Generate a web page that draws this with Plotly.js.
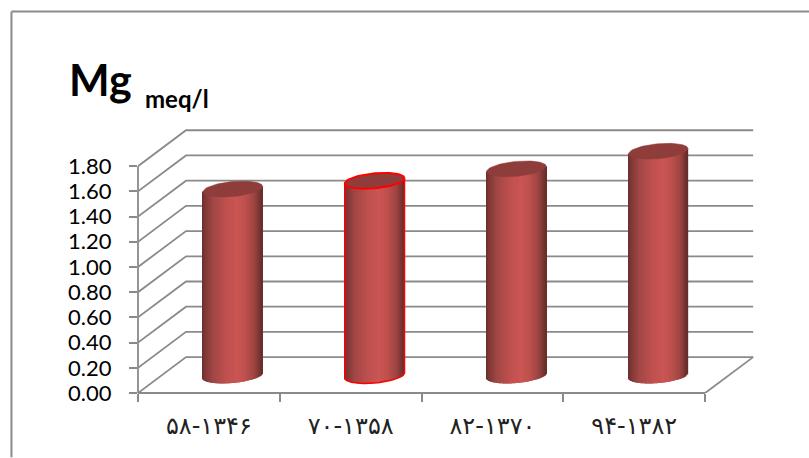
<!DOCTYPE html>
<html>
<head>
<meta charset="utf-8">
<script src="https://cdn.plot.ly/plotly-3.0.1.min.js"></script>
<style>
html,body{margin:0;padding:0;background:#fff;overflow:hidden}
</style>
</head>
<body>
<div id="chart" style="width:809px;height:458px"></div>
<script>
// Magnesium concentration by period
var categories = ['۵۸-۱۳۴۶', '۷۰-۱۳۵۸', '۸۲-۱۳۷۰', '۹۴-۱۳۸۲'];
var values = [1.48, 1.545, 1.64, 1.78];
var yTicks = [0, 0.2, 0.4, 0.6, 0.8, 1.0, 1.2, 1.4, 1.6, 1.8];
var yTickLabels = ['0.00', '0.20', '0.40', '0.60', '0.80', '1.00', '1.20', '1.40', '1.60', '1.80'];
var highlighted = [false, true, false, false];

// Oblique projection of the chart box, in axis units
var W = 809, H = 458;
var left = 138, bottom = 393.5;
var slotPx = 141.75, unitPx = 126.39;
var depthX = 48 / slotPx, depthY = 36 / unitPx;
var xMax = 4 + depthX + 0.02, yMax = 1.8 + depthY + 0.01;

// Cylinder shape
var radius = 29.8 / slotPx, capRise = 7.5 / unitPx, capTilt = 2.6 / unitPx;
var baseLevel = depthY / 2 - 0.5 / unitPx;
var sliceCount = 60;

// Horizontal shading across a cylinder: [position, r, g, b]
var shade = [
  [0.00, 106, 47, 45], [0.05, 126, 55, 53], [0.18, 160, 70, 68], [0.40, 190, 80, 78],
  [0.58, 203, 85, 83], [0.72, 190, 80, 77], [0.86, 160, 69, 66], [0.95, 124, 54, 52], [1.00, 100, 44, 42]
];
function shadeAt(t) {
  for (var i = 1; i < shade.length; i++) {
    if (t <= shade[i][0]) {
      var a = shade[i - 1], b = shade[i], f = (t - a[0]) / (b[0] - a[0]);
      return 'rgb(' + [1, 2, 3].map(function (k) { return Math.round(a[k] + (b[k] - a[k]) * f); }).join(',') + ')';
    }
  }
  return 'rgb(100,44,42)';
}

// Height of a cylinder rim at u in [-1, 1]; sign picks the front (-1) or back (+1) arc
function rim(center, u, sign) {
  return center + capTilt * u + sign * capRise * Math.sqrt(Math.max(0, 1 - u * u));
}

var traces = [];
values.forEach(function (v, idx) {
  var cx = idx + 0.5 + depthX / 2;
  var xs = [], bases = [], heights = [], colors = [], widths = [];
  for (var i = 0; i < sliceCount; i++) {
    var t = (i + 0.5) / sliceCount, u = 2 * t - 1;
    var lo = rim(baseLevel, u, -1), hi = rim(baseLevel + v, u, 0);
    xs.push(cx + u * radius);
    bases.push(lo);
    heights.push(hi - lo);
    colors.push(shadeAt(t));
    widths.push(2 * radius / sliceCount * 1.2);
  }
  traces.push({
    type: 'bar', x: xs, y: heights, base: bases, width: widths,
    marker: { color: colors, opacity: 1, line: { width: 0 } },
    hoverinfo: 'skip', showlegend: false, cliponaxis: false
  });
});

values.forEach(function (v, idx) {
  var cx = idx + 0.5 + depthX / 2, top = baseLevel + v;
  var capX = [], capY = [], a;
  for (a = 0; a <= 72; a++) {
    var th = a / 72 * 2 * Math.PI, c = Math.cos(th);
    capX.push(cx + radius * c);
    capY.push(top + capTilt * c + capRise * Math.sin(th));
  }
  traces.push({
    type: 'scatter', mode: 'lines', x: capX, y: capY, fill: 'toself',
    fillcolor: '#8e3d3b', line: { color: highlighted[idx] ? '#ff0000' : '#8e3d3b', width: highlighted[idx] ? 2 : 0.5 },
    hoverinfo: 'skip', showlegend: false, cliponaxis: false
  });
  if (highlighted[idx]) {
    var ox = [], oy = [];
    for (a = 0; a <= 36; a++) {
      var u2 = -1 + a / 18;
      ox.push(cx + u2 * radius);
      oy.push(rim(baseLevel, u2, -1));
    }
    ox.push(cx + radius); oy.push(rim(top, 1, 0));
    ox.unshift(cx - radius); oy.unshift(rim(top, -1, 0));
    traces.push({
      type: 'scatter', mode: 'lines', x: ox, y: oy,
      line: { color: '#ff0000', width: 1.5 },
      hoverinfo: 'skip', showlegend: false, cliponaxis: false
    });
  }
});

// Invisible trace so the tick-mark axis along the floor is drawn
traces.push({ type: 'scatter', x: [0], y: [0], xaxis: 'x2', mode: 'none', hoverinfo: 'skip', showlegend: false });

var gridColor = '#8a8a8a';
var shapes = [];
yTicks.forEach(function (t) {
  shapes.push({
    type: 'path', layer: 'below', xref: 'x', yref: 'y',
    path: 'M0,' + t + ' L' + depthX + ',' + (t + depthY) + ' L' + (4 + depthX) + ',' + (t + depthY),
    line: { color: gridColor, width: 1.8 }
  });
});
// Floor outline and the two axis lines
shapes.push({
  type: 'path', layer: 'below', xref: 'x', yref: 'y',
  path: 'M4,0 L' + (4 + depthX) + ',' + depthY,
  line: { color: gridColor, width: 1.8 }
});
shapes.push({ type: 'line', layer: 'below', xref: 'x', yref: 'paper', x0: 0, x1: 4, y0: 0, y1: 0, line: { color: gridColor, width: 1.8 } });
shapes.push({ type: 'line', layer: 'below', xref: 'paper', yref: 'y', x0: 0, x1: 0, y0: 0, y1: 1.8, line: { color: gridColor, width: 1.8 } });

// Outer frame: top and left edges only
var plotW = xMax * slotPx, plotH = yMax * unitPx;
var fx = (11.5 - left) / plotW, fy = (bottom - 11) / plotH;
shapes.push({ type: 'line', layer: 'above', xref: 'paper', yref: 'paper', x0: fx, x1: (W - left) / plotW, y0: fy, y1: fy, line: { color: gridColor, width: 2 } });
shapes.push({ type: 'line', layer: 'above', xref: 'paper', yref: 'paper', x0: fx, x1: fx, y0: fy, y1: (bottom - H) / plotH, line: { color: gridColor, width: 2 } });

var layout = {
  width: W, height: H,
  paper_bgcolor: '#ffffff', plot_bgcolor: 'rgba(0,0,0,0)',
  margin: { l: left, t: bottom - plotH, r: W - left - plotW, b: H - bottom, pad: 0 },
  barmode: 'overlay', showlegend: false,
  title: {
    text: '<b>Mg</b>', font: { family: 'Lato', size: 43, weight: 700, color: '#000000' },
    x: 69 / W, xanchor: 'left', xref: 'container', y: 1 - 96 / H, yanchor: 'bottom', yref: 'container', pad: { t: 0, b: 0, l: 0, r: 0 }
  },
  annotations: [{
    text: '<b>meq/l</b>', xref: 'paper', yref: 'paper', showarrow: false,
    x: (143 - left) / plotW, xanchor: 'left',
    y: (bottom - 115) / plotH, yanchor: 'bottom',
    font: { family: 'Lato', size: 24, color: '#000000' }
  }],
  xaxis: {
    range: [0, xMax], showgrid: false, zeroline: false, showline: false,
    tickmode: 'array', tickvals: [0.5, 1.5, 2.5, 3.5], ticktext: categories,
    ticks: '', ticklabelstandoff: 16,
    tickfont: { family: 'DejaVu Sans', size: 24, color: '#222222' }, tickangle: 0, fixedrange: true
  },
  xaxis2: {
    overlaying: 'x', anchor: 'y', side: 'bottom', range: [0, xMax], showgrid: false, zeroline: false, showline: false,
    tickmode: 'array', tickvals: [0, 1, 2, 3, 4], ticktext: ['', '', '', '', ''],
    ticks: 'outside', ticklen: 8, tickwidth: 2, tickcolor: gridColor, fixedrange: true
  },
  yaxis: {
    range: [0, yMax], showgrid: false, zeroline: false, showline: false,
    tickmode: 'array', tickvals: yTicks, ticktext: yTickLabels,
    ticks: 'outside', ticklen: 8, tickwidth: 2, tickcolor: gridColor, ticklabelstandoff: 13,
    tickfont: { family: 'Lato', size: 22, color: '#000000' }, fixedrange: true
  },
  shapes: shapes
};

Plotly.newPlot('chart', traces, layout, { displayModeBar: false, responsive: false });
</script>
</body>
</html>
